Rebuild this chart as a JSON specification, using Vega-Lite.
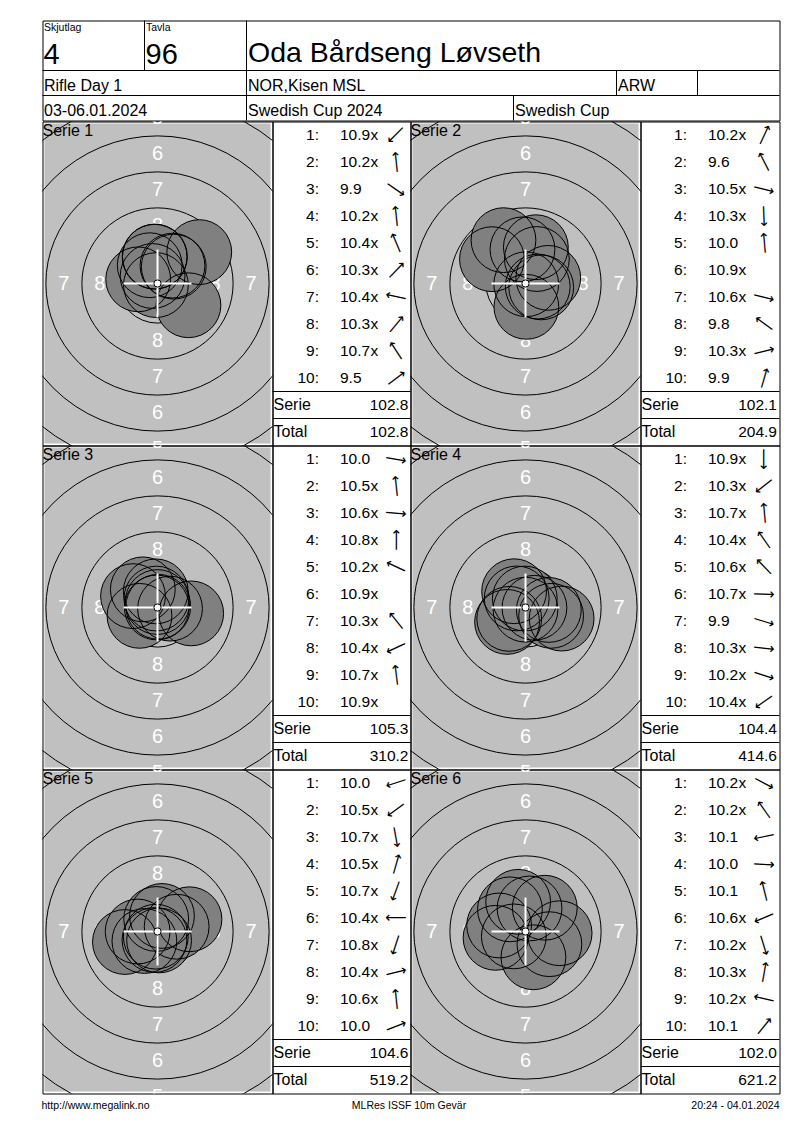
{
  "$schema": "https://vega.github.io/schema/vega-lite/v6.json",
  "padding": {"left": 41.5, "top": 19.5, "right": 10, "bottom": 6},
  "background": "#ffffff",
  "data": {
    "values": [
      {"c": "grid"},
      {"c": "skj", "role": "cap", "t": "Skjutlag"},
      {"c": "skj", "role": "val", "t": "4"},
      {"c": "tav", "role": "cap", "t": "Tavla"},
      {"c": "tav", "role": "val", "t": "96"},
      {"c": "name", "role": "val", "t": "Oda Bårdseng Løvseth"},
      {"c": "day", "t": "Rifle Day 1"},
      {"c": "club", "t": "NOR,Kisen MSL"},
      {"c": "cls", "t": "ARW"},
      {"c": "date", "t": "03-06.01.2024"},
      {"c": "comp", "t": "Swedish Cup 2024"},
      {"c": "comp2", "t": "Swedish Cup"},
      {"c": "fl", "t": "http://www.megalink.no"},
      {"c": "fc", "t": "MLRes ISSF 10m Gevär"},
      {"c": "fr", "t": "20:24 - 04.01.2024"},
      {"k": "bg"},
      {"k": "ring", "r": 2.75},
      {"k": "ring", "r": 5.25},
      {"k": "ring", "r": 7.75},
      {"k": "ring", "r": 10.25},
      {"k": "ring", "r": 12.75},
      {"k": "ten", "r": 0.25},
      {"k": "lab", "t": "8", "lr": 4.0},
      {"k": "lab", "t": "7", "lr": 6.5},
      {"k": "lab", "t": "6", "lr": 9.0},
      {"k": "lab", "t": "5", "lr": 11.5},
      {"k": "title", "s": 1, "t": "Serie 1"},
      {"k": "title", "s": 2, "t": "Serie 2"},
      {"k": "title", "s": 3, "t": "Serie 3"},
      {"k": "title", "s": 4, "t": "Serie 4"},
      {"k": "title", "s": 5, "t": "Serie 5"},
      {"k": "title", "s": 6, "t": "Serie 6"},
      {"k": "shot", "s": 1, "n": 1, "sc": 10.9, "in": true, "dir": 225, "x": -0.11, "y": -0.11},
      {"k": "shot", "s": 1, "n": 2, "sc": 10.2, "in": true, "dir": 96, "x": -0.2, "y": 1.86},
      {"k": "shot", "s": 1, "n": 3, "sc": 9.9, "in": false, "dir": 325, "x": 2.15, "y": -1.51},
      {"k": "shot", "s": 1, "n": 4, "sc": 10.2, "in": true, "dir": 96, "x": -0.18, "y": 1.87},
      {"k": "shot", "s": 1, "n": 5, "sc": 10.4, "in": true, "dir": 113, "x": -0.54, "y": 1.27},
      {"k": "shot", "s": 1, "n": 6, "sc": 10.3, "in": true, "dir": 46, "x": 1.13, "y": 1.17},
      {"k": "shot", "s": 1, "n": 7, "sc": 10.4, "in": true, "dir": 168, "x": -1.34, "y": 0.29},
      {"k": "shot", "s": 1, "n": 8, "sc": 10.3, "in": true, "dir": 50, "x": 1.04, "y": 1.24},
      {"k": "shot", "s": 1, "n": 9, "sc": 10.7, "in": true, "dir": 123, "x": -0.34, "y": 0.52},
      {"k": "shot", "s": 1, "n": 10, "sc": 9.5, "in": false, "dir": 37, "x": 2.9, "y": 2.18},
      {"k": "shot", "s": 2, "n": 1, "sc": 10.2, "in": true, "dir": 65, "x": 0.79, "y": 1.7},
      {"k": "shot", "s": 2, "n": 2, "sc": 9.6, "in": false, "dir": 117, "x": -1.53, "y": 3.01},
      {"k": "shot", "s": 2, "n": 3, "sc": 10.5, "in": true, "dir": 346, "x": 1.09, "y": -0.27},
      {"k": "shot", "s": 2, "n": 4, "sc": 10.3, "in": true, "dir": 272, "x": 0.06, "y": -1.62},
      {"k": "shot", "s": 2, "n": 5, "sc": 10.0, "in": false, "dir": 95, "x": -0.21, "y": 2.37},
      {"k": "shot", "s": 2, "n": 6, "sc": 10.9, "in": true, "dir": null, "x": 0.05, "y": -0.05},
      {"k": "shot", "s": 2, "n": 7, "sc": 10.6, "in": true, "dir": 346, "x": 0.85, "y": -0.21},
      {"k": "shot", "s": 2, "n": 8, "sc": 9.8, "in": false, "dir": 144, "x": -2.33, "y": 1.69},
      {"k": "shot", "s": 2, "n": 9, "sc": 10.3, "in": true, "dir": 14, "x": 1.58, "y": 0.39},
      {"k": "shot", "s": 2, "n": 10, "sc": 9.9, "in": false, "dir": 74, "x": 0.72, "y": 2.52},
      {"k": "shot", "s": 3, "n": 1, "sc": 10.0, "in": false, "dir": 350, "x": 2.34, "y": -0.41},
      {"k": "shot", "s": 3, "n": 2, "sc": 10.5, "in": true, "dir": 96, "x": -0.12, "y": 1.12},
      {"k": "shot", "s": 3, "n": 3, "sc": 10.6, "in": true, "dir": 355, "x": 0.87, "y": -0.08},
      {"k": "shot", "s": 3, "n": 4, "sc": 10.8, "in": true, "dir": 90, "x": 0.0, "y": 0.38},
      {"k": "shot", "s": 3, "n": 5, "sc": 10.2, "in": true, "dir": 155, "x": -1.7, "y": 0.79},
      {"k": "shot", "s": 3, "n": 6, "sc": 10.9, "in": true, "dir": null, "x": 0.05, "y": 0.05},
      {"k": "shot", "s": 3, "n": 7, "sc": 10.3, "in": true, "dir": 129, "x": -1.02, "y": 1.26},
      {"k": "shot", "s": 3, "n": 8, "sc": 10.4, "in": true, "dir": 205, "x": -1.25, "y": -0.58},
      {"k": "shot", "s": 3, "n": 9, "sc": 10.7, "in": true, "dir": 97, "x": -0.08, "y": 0.62},
      {"k": "shot", "s": 3, "n": 10, "sc": 10.9, "in": true, "dir": null, "x": -0.05, "y": 0.0},
      {"k": "shot", "s": 4, "n": 1, "sc": 10.9, "in": true, "dir": 270, "x": 0.0, "y": -0.15},
      {"k": "shot", "s": 4, "n": 2, "sc": 10.3, "in": true, "dir": 218, "x": -1.28, "y": -1.0},
      {"k": "shot", "s": 4, "n": 3, "sc": 10.7, "in": true, "dir": 95, "x": -0.05, "y": 0.62},
      {"k": "shot", "s": 4, "n": 4, "sc": 10.4, "in": true, "dir": 125, "x": -0.79, "y": 1.13},
      {"k": "shot", "s": 4, "n": 5, "sc": 10.6, "in": true, "dir": 134, "x": -0.61, "y": 0.63},
      {"k": "shot", "s": 4, "n": 6, "sc": 10.7, "in": true, "dir": 358, "x": 0.62, "y": -0.02},
      {"k": "shot", "s": 4, "n": 7, "sc": 9.9, "in": false, "dir": 343, "x": 2.51, "y": -0.77},
      {"k": "shot", "s": 4, "n": 8, "sc": 10.3, "in": true, "dir": 354, "x": 1.62, "y": -0.17},
      {"k": "shot", "s": 4, "n": 9, "sc": 10.2, "in": true, "dir": 342, "x": 1.78, "y": -0.58},
      {"k": "shot", "s": 4, "n": 10, "sc": 10.4, "in": true, "dir": 215, "x": -1.13, "y": -0.79},
      {"k": "shot", "s": 5, "n": 1, "sc": 10.0, "in": false, "dir": 198, "x": -2.26, "y": -0.73},
      {"k": "shot", "s": 5, "n": 2, "sc": 10.5, "in": true, "dir": 216, "x": -0.91, "y": -0.66},
      {"k": "shot", "s": 5, "n": 3, "sc": 10.7, "in": true, "dir": 280, "x": 0.11, "y": -0.62},
      {"k": "shot", "s": 5, "n": 4, "sc": 10.5, "in": true, "dir": 74, "x": 0.31, "y": 1.08},
      {"k": "shot", "s": 5, "n": 5, "sc": 10.7, "in": true, "dir": 250, "x": -0.21, "y": -0.59},
      {"k": "shot", "s": 5, "n": 6, "sc": 10.4, "in": true, "dir": 180, "x": -1.38, "y": 0.0},
      {"k": "shot", "s": 5, "n": 7, "sc": 10.8, "in": true, "dir": 252, "x": -0.12, "y": -0.36},
      {"k": "shot", "s": 5, "n": 8, "sc": 10.4, "in": true, "dir": 14, "x": 1.33, "y": 0.33},
      {"k": "shot", "s": 5, "n": 9, "sc": 10.6, "in": true, "dir": 96, "x": -0.09, "y": 0.87},
      {"k": "shot", "s": 5, "n": 10, "sc": 10.0, "in": false, "dir": 21, "x": 2.22, "y": 0.85},
      {"k": "shot", "s": 6, "n": 1, "sc": 10.2, "in": true, "dir": 332, "x": 1.66, "y": -0.88},
      {"k": "shot", "s": 6, "n": 2, "sc": 10.2, "in": true, "dir": 125, "x": -1.08, "y": 1.54},
      {"k": "shot", "s": 6, "n": 3, "sc": 10.1, "in": false, "dir": 192, "x": -2.08, "y": -0.44},
      {"k": "shot", "s": 6, "n": 4, "sc": 10.0, "in": false, "dir": 357, "x": 2.37, "y": -0.12},
      {"k": "shot", "s": 6, "n": 5, "sc": 10.1, "in": false, "dir": 104, "x": -0.51, "y": 2.06},
      {"k": "shot", "s": 6, "n": 6, "sc": 10.6, "in": true, "dir": 203, "x": -0.81, "y": -0.34},
      {"k": "shot", "s": 6, "n": 7, "sc": 10.2, "in": true, "dir": 287, "x": 0.55, "y": -1.79},
      {"k": "shot", "s": 6, "n": 8, "sc": 10.3, "in": true, "dir": 80, "x": 0.28, "y": 1.6},
      {"k": "shot", "s": 6, "n": 9, "sc": 10.2, "in": true, "dir": 167, "x": -1.83, "y": 0.42},
      {"k": "shot", "s": 6, "n": 10, "sc": 10.1, "in": false, "dir": 51, "x": 1.34, "y": 1.65},
      {"k": "sum", "s": 1, "lab": "Serie", "v": 102.8},
      {"k": "sum", "s": 1, "lab": "Total", "v": 102.8},
      {"k": "sum", "s": 2, "lab": "Serie", "v": 102.1},
      {"k": "sum", "s": 2, "lab": "Total", "v": 204.9},
      {"k": "sum", "s": 3, "lab": "Serie", "v": 105.3},
      {"k": "sum", "s": 3, "lab": "Total", "v": 310.2},
      {"k": "sum", "s": 4, "lab": "Serie", "v": 104.4},
      {"k": "sum", "s": 4, "lab": "Total", "v": 414.6},
      {"k": "sum", "s": 5, "lab": "Serie", "v": 104.6},
      {"k": "sum", "s": 5, "lab": "Total", "v": 519.2},
      {"k": "sum", "s": 6, "lab": "Serie", "v": 102.0},
      {"k": "sum", "s": 6, "lab": "Total", "v": 621.2}
    ]
  },
  "spacing": -2,
  "vconcat": [
    {
      "width": 737, "height": 100,
      "layer": [
        {"transform": [{"filter": "datum.c=='grid'"}], "mark": {"type": "rule", "color": "#000", "strokeWidth": 1}, "encoding": {"x": {"datum": 0, "scale": {"domain": [0, 737], "nice": false, "zero": false}}, "x2": {"datum": 737}, "y": {"datum": 50, "scale": {"domain": [0, 100], "nice": false, "zero": false, "reverse": true}}}},
        {"transform": [{"filter": "datum.c=='grid'"}], "mark": {"type": "rule", "color": "#000", "strokeWidth": 1}, "encoding": {"x": {"datum": 0}, "x2": {"datum": 737}, "y": {"datum": 75}}},
        {"transform": [{"filter": "datum.c=='grid'"}], "mark": {"type": "rule", "color": "#000", "strokeWidth": 1}, "encoding": {"x": {"datum": 102}, "y": {"datum": 0}, "y2": {"datum": 50}}},
        {"transform": [{"filter": "datum.c=='grid'"}], "mark": {"type": "rule", "color": "#000", "strokeWidth": 1}, "encoding": {"x": {"datum": 204}, "y": {"datum": 0}, "y2": {"datum": 100}}},
        {"transform": [{"filter": "datum.c=='grid'"}], "mark": {"type": "rule", "color": "#000", "strokeWidth": 1}, "encoding": {"x": {"datum": 574}, "y": {"datum": 50}, "y2": {"datum": 75}}},
        {"transform": [{"filter": "datum.c=='grid'"}], "mark": {"type": "rule", "color": "#000", "strokeWidth": 1}, "encoding": {"x": {"datum": 655}, "y": {"datum": 50}, "y2": {"datum": 75}}},
        {"transform": [{"filter": "datum.c=='grid'"}], "mark": {"type": "rule", "color": "#000", "strokeWidth": 1}, "encoding": {"x": {"datum": 471}, "y": {"datum": 75}, "y2": {"datum": 100}}},
        {"transform": [{"filter": "datum.c=='skj'&&datum.role=='cap'"}], "mark": {"type": "text", "align": "left", "baseline": "top", "fontSize": 10.5}, "encoding": {"x": {"datum": 1.5}, "y": {"datum": 2.5}, "text": {"field": "t"}}},
        {"transform": [{"filter": "datum.c=='skj'&&datum.role=='val'"}], "mark": {"type": "text", "align": "left", "baseline": "alphabetic", "fontSize": 29}, "encoding": {"x": {"datum": 1}, "y": {"datum": 43}, "text": {"field": "t"}}},
        {"transform": [{"filter": "datum.c=='tav'&&datum.role=='cap'"}], "mark": {"type": "text", "align": "left", "baseline": "top", "fontSize": 10.5}, "encoding": {"x": {"datum": 103.5}, "y": {"datum": 2.5}, "text": {"field": "t"}}},
        {"transform": [{"filter": "datum.c=='tav'&&datum.role=='val'"}], "mark": {"type": "text", "align": "left", "baseline": "alphabetic", "fontSize": 29}, "encoding": {"x": {"datum": 103}, "y": {"datum": 43}, "text": {"field": "t"}}},
        {"transform": [{"filter": "datum.c=='name'"}], "mark": {"type": "text", "align": "left", "baseline": "alphabetic", "fontSize": 28.5}, "encoding": {"x": {"datum": 205.5}, "y": {"datum": 41.5}, "text": {"field": "t"}}},
        {"transform": [{"filter": "datum.c=='day'"}], "mark": {"type": "text", "align": "left", "baseline": "alphabetic", "fontSize": 16}, "encoding": {"x": {"datum": 1.5}, "y": {"datum": 70.5}, "text": {"field": "t"}}},
        {"transform": [{"filter": "datum.c=='club'"}], "mark": {"type": "text", "align": "left", "baseline": "alphabetic", "fontSize": 16}, "encoding": {"x": {"datum": 205.5}, "y": {"datum": 70.5}, "text": {"field": "t"}}},
        {"transform": [{"filter": "datum.c=='cls'"}], "mark": {"type": "text", "align": "left", "baseline": "alphabetic", "fontSize": 16}, "encoding": {"x": {"datum": 575.5}, "y": {"datum": 70.5}, "text": {"field": "t"}}},
        {"transform": [{"filter": "datum.c=='date'"}], "mark": {"type": "text", "align": "left", "baseline": "alphabetic", "fontSize": 16}, "encoding": {"x": {"datum": 1.5}, "y": {"datum": 95}, "text": {"field": "t"}}},
        {"transform": [{"filter": "datum.c=='comp'"}], "mark": {"type": "text", "align": "left", "baseline": "alphabetic", "fontSize": 16}, "encoding": {"x": {"datum": 205.5}, "y": {"datum": 95}, "text": {"field": "t"}}},
        {"transform": [{"filter": "datum.c=='comp2'"}], "mark": {"type": "text", "align": "left", "baseline": "alphabetic", "fontSize": 16}, "encoding": {"x": {"datum": 472.5}, "y": {"datum": 95}, "text": {"field": "t"}}}
      ]
    },
    {
      "columns": 4,
      "spacing": 0,
      "bounds": "flush",
      "concat": [
        {
          "width": 230, "height": 324,
          "transform": [{"filter": "datum.s==null||datum.s==1"}],
          "layer": [
            {"transform": [{"filter": "datum.k=='bg'"}], "mark": {"type": "rect", "color": "#c0c0c0"}, "encoding": {"x": {"datum": -7.85, "scale": {"domain": [-7.986, 7.986], "nice": false, "zero": false}}, "x2": {"datum": 7.85}, "y": {"datum": -11.11, "scale": {"domain": [-11.25, 11.25], "nice": false, "zero": false}}, "y2": {"datum": 11.11}}},
            {"transform": [{"filter": "datum.k=='ring'"}], "mark": {"type": "point", "shape": "circle", "filled": false, "color": "#000", "strokeWidth": 1, "opacity": 1, "clip": true}, "encoding": {"x": {"datum": 0}, "y": {"datum": 0}, "size": {"field": "r", "type": "quantitative", "scale": {"type": "pow", "exponent": 2, "domain": [0, 10], "range": [0, 82944]}}}},
            {"transform": [{"filter": "datum.k=='lab'"}], "mark": {"type": "text", "color": "#fff", "fontSize": 20, "clip": true}, "encoding": {"theta": {"datum": 0, "scale": {"domain": [0, 360], "range": [0, 6.283185]}}, "radius": {"field": "lr", "type": "quantitative", "scale": {"type": "linear", "domain": [0, 10], "range": [0, 144], "zero": true}}, "text": {"field": "t"}}},
            {"transform": [{"filter": "datum.k=='lab'&&datum.lr<8"}], "mark": {"type": "text", "color": "#fff", "fontSize": 20, "clip": true}, "encoding": {"theta": {"datum": 90}, "radius": {"field": "lr", "type": "quantitative"}, "text": {"field": "t"}}},
            {"transform": [{"filter": "datum.k=='lab'"}], "mark": {"type": "text", "color": "#fff", "fontSize": 20, "clip": true}, "encoding": {"theta": {"datum": 180}, "radius": {"field": "lr", "type": "quantitative"}, "text": {"field": "t"}}},
            {"transform": [{"filter": "datum.k=='lab'&&datum.lr<8"}], "mark": {"type": "text", "color": "#fff", "fontSize": 20, "clip": true}, "encoding": {"theta": {"datum": 270}, "radius": {"field": "lr", "type": "quantitative"}, "text": {"field": "t"}}},
            {"transform": [{"filter": "datum.k=='shot'"}], "mark": {"type": "point", "shape": "circle", "filled": true, "color": "#808080", "opacity": 1, "size": 4199, "strokeWidth": 0, "clip": true}, "encoding": {"x": {"field": "x", "type": "quantitative"}, "y": {"field": "y", "type": "quantitative"}}},
            {"transform": [{"filter": "datum.k=='shot'"}], "mark": {"type": "point", "shape": "circle", "filled": false, "color": "#000", "opacity": 1, "size": 4199, "strokeWidth": 1, "clip": true}, "encoding": {"x": {"field": "x", "type": "quantitative"}, "y": {"field": "y", "type": "quantitative"}}},
            {"transform": [{"filter": "datum.k=='bg'"}], "mark": {"type": "rule", "color": "#fff", "strokeWidth": 2}, "encoding": {"x": {"datum": -2.36}, "x2": {"datum": 2.36}, "y": {"datum": 0}}},
            {"transform": [{"filter": "datum.k=='bg'"}], "mark": {"type": "rule", "color": "#fff", "strokeWidth": 2}, "encoding": {"x": {"datum": 0}, "y": {"datum": -2.36}, "y2": {"datum": 2.36}}},
            {"transform": [{"filter": "datum.k=='ten'"}], "mark": {"type": "point", "shape": "circle", "filled": true, "fill": "#fff", "stroke": "#000", "strokeWidth": 1, "opacity": 1}, "encoding": {"x": {"datum": 0}, "y": {"datum": 0}, "size": {"field": "r", "type": "quantitative"}}},
            {"transform": [{"filter": "datum.k=='title'"}], "mark": {"type": "text", "align": "left", "baseline": "top", "fontSize": 16, "dy": 1}, "encoding": {"x": {"datum": -7.986}, "y": {"datum": 11.25}, "text": {"field": "t"}}}
          ]
        },
        {
          "width": 138, "height": 324,
          "transform": [{"filter": "datum.s==1"}],
          "layer": [
            {"transform": [{"filter": "datum.k=='shot'"}], "mark": {"type": "text", "align": "right", "fontSize": 15.5}, "encoding": {"x": {"datum": 42.2, "scale": {"domain": [0, 138], "nice": false, "zero": false}}, "y": {"field": "n", "type": "ordinal", "scale": {"type": "band", "domain": [1, 2, 3, 4, 5, 6, 7, 8, 9, 10, "Serie", "Total"], "paddingInner": 0, "paddingOuter": 0}}, "text": {"field": "n"}}},
            {"transform": [{"filter": "datum.k=='shot'"}], "mark": {"type": "text", "align": "left", "fontSize": 15.5}, "encoding": {"x": {"datum": 42.2}, "y": {"field": "n", "type": "ordinal"}, "text": {"value": ":"}}},
            {"transform": [{"filter": "datum.k=='shot'"}], "mark": {"type": "text", "align": "left", "fontSize": 15.5}, "encoding": {"x": {"datum": 67.5}, "y": {"field": "n", "type": "ordinal"}, "text": {"field": "sc", "format": "\u00a0>4.1f"}}},
            {"transform": [{"filter": "datum.k=='shot'&&datum.in"}], "mark": {"type": "text", "align": "left", "fontSize": 15.5}, "encoding": {"x": {"datum": 98}, "y": {"field": "n", "type": "ordinal"}, "text": {"value": "x"}}},
            {"transform": [{"filter": "datum.k=='shot'&&datum.dir!=null"}], "mark": {"type": "text", "font": "DejaVu Sans", "fontSize": 15}, "encoding": {"x": {"datum": 123.5}, "y": {"field": "n", "type": "ordinal"}, "text": {"value": "⟶"}, "angle": {"field": "dir", "type": "quantitative", "scale": {"domain": [0, 360], "range": [360, 0]}}}},
            {"transform": [{"filter": "datum.k=='sum'"}], "mark": {"type": "rule", "color": "#000", "strokeWidth": 1}, "encoding": {"x": {"datum": 0}, "x2": {"datum": 138}, "y": {"field": "lab", "type": "ordinal", "bandPosition": 0}}},
            {"transform": [{"filter": "datum.k=='sum'"}], "mark": {"type": "text", "align": "left", "fontSize": 16}, "encoding": {"x": {"datum": 1}, "y": {"field": "lab", "type": "ordinal"}, "text": {"field": "lab"}}},
            {"transform": [{"filter": "datum.k=='sum'"}], "mark": {"type": "text", "align": "right", "fontSize": 15.5}, "encoding": {"x": {"datum": 136}, "y": {"field": "lab", "type": "ordinal"}, "text": {"field": "v", "format": ".1f"}}}
          ]
        },
        {
          "width": 230, "height": 324,
          "transform": [{"filter": "datum.s==null||datum.s==2"}],
          "layer": [
            {"transform": [{"filter": "datum.k=='bg'"}], "mark": {"type": "rect", "color": "#c0c0c0"}, "encoding": {"x": {"datum": -7.85, "scale": {"domain": [-7.986, 7.986], "nice": false, "zero": false}}, "x2": {"datum": 7.85}, "y": {"datum": -11.11, "scale": {"domain": [-11.25, 11.25], "nice": false, "zero": false}}, "y2": {"datum": 11.11}}},
            {"transform": [{"filter": "datum.k=='ring'"}], "mark": {"type": "point", "shape": "circle", "filled": false, "color": "#000", "strokeWidth": 1, "opacity": 1, "clip": true}, "encoding": {"x": {"datum": 0}, "y": {"datum": 0}, "size": {"field": "r", "type": "quantitative", "scale": {"type": "pow", "exponent": 2, "domain": [0, 10], "range": [0, 82944]}}}},
            {"transform": [{"filter": "datum.k=='lab'"}], "mark": {"type": "text", "color": "#fff", "fontSize": 20, "clip": true}, "encoding": {"theta": {"datum": 0, "scale": {"domain": [0, 360], "range": [0, 6.283185]}}, "radius": {"field": "lr", "type": "quantitative", "scale": {"type": "linear", "domain": [0, 10], "range": [0, 144], "zero": true}}, "text": {"field": "t"}}},
            {"transform": [{"filter": "datum.k=='lab'&&datum.lr<8"}], "mark": {"type": "text", "color": "#fff", "fontSize": 20, "clip": true}, "encoding": {"theta": {"datum": 90}, "radius": {"field": "lr", "type": "quantitative"}, "text": {"field": "t"}}},
            {"transform": [{"filter": "datum.k=='lab'"}], "mark": {"type": "text", "color": "#fff", "fontSize": 20, "clip": true}, "encoding": {"theta": {"datum": 180}, "radius": {"field": "lr", "type": "quantitative"}, "text": {"field": "t"}}},
            {"transform": [{"filter": "datum.k=='lab'&&datum.lr<8"}], "mark": {"type": "text", "color": "#fff", "fontSize": 20, "clip": true}, "encoding": {"theta": {"datum": 270}, "radius": {"field": "lr", "type": "quantitative"}, "text": {"field": "t"}}},
            {"transform": [{"filter": "datum.k=='shot'"}], "mark": {"type": "point", "shape": "circle", "filled": true, "color": "#808080", "opacity": 1, "size": 4199, "strokeWidth": 0, "clip": true}, "encoding": {"x": {"field": "x", "type": "quantitative"}, "y": {"field": "y", "type": "quantitative"}}},
            {"transform": [{"filter": "datum.k=='shot'"}], "mark": {"type": "point", "shape": "circle", "filled": false, "color": "#000", "opacity": 1, "size": 4199, "strokeWidth": 1, "clip": true}, "encoding": {"x": {"field": "x", "type": "quantitative"}, "y": {"field": "y", "type": "quantitative"}}},
            {"transform": [{"filter": "datum.k=='bg'"}], "mark": {"type": "rule", "color": "#fff", "strokeWidth": 2}, "encoding": {"x": {"datum": -2.36}, "x2": {"datum": 2.36}, "y": {"datum": 0}}},
            {"transform": [{"filter": "datum.k=='bg'"}], "mark": {"type": "rule", "color": "#fff", "strokeWidth": 2}, "encoding": {"x": {"datum": 0}, "y": {"datum": -2.36}, "y2": {"datum": 2.36}}},
            {"transform": [{"filter": "datum.k=='ten'"}], "mark": {"type": "point", "shape": "circle", "filled": true, "fill": "#fff", "stroke": "#000", "strokeWidth": 1, "opacity": 1}, "encoding": {"x": {"datum": 0}, "y": {"datum": 0}, "size": {"field": "r", "type": "quantitative"}}},
            {"transform": [{"filter": "datum.k=='title'"}], "mark": {"type": "text", "align": "left", "baseline": "top", "fontSize": 16, "dy": 1}, "encoding": {"x": {"datum": -7.986}, "y": {"datum": 11.25}, "text": {"field": "t"}}}
          ]
        },
        {
          "width": 139, "height": 324,
          "transform": [{"filter": "datum.s==2"}],
          "layer": [
            {"transform": [{"filter": "datum.k=='shot'"}], "mark": {"type": "text", "align": "right", "fontSize": 15.5}, "encoding": {"x": {"datum": 42.2, "scale": {"domain": [0, 139], "nice": false, "zero": false}}, "y": {"field": "n", "type": "ordinal", "scale": {"type": "band", "domain": [1, 2, 3, 4, 5, 6, 7, 8, 9, 10, "Serie", "Total"], "paddingInner": 0, "paddingOuter": 0}}, "text": {"field": "n"}}},
            {"transform": [{"filter": "datum.k=='shot'"}], "mark": {"type": "text", "align": "left", "fontSize": 15.5}, "encoding": {"x": {"datum": 42.2}, "y": {"field": "n", "type": "ordinal"}, "text": {"value": ":"}}},
            {"transform": [{"filter": "datum.k=='shot'"}], "mark": {"type": "text", "align": "left", "fontSize": 15.5}, "encoding": {"x": {"datum": 67.5}, "y": {"field": "n", "type": "ordinal"}, "text": {"field": "sc", "format": "\u00a0>4.1f"}}},
            {"transform": [{"filter": "datum.k=='shot'&&datum.in"}], "mark": {"type": "text", "align": "left", "fontSize": 15.5}, "encoding": {"x": {"datum": 98}, "y": {"field": "n", "type": "ordinal"}, "text": {"value": "x"}}},
            {"transform": [{"filter": "datum.k=='shot'&&datum.dir!=null"}], "mark": {"type": "text", "font": "DejaVu Sans", "fontSize": 15}, "encoding": {"x": {"datum": 123.5}, "y": {"field": "n", "type": "ordinal"}, "text": {"value": "⟶"}, "angle": {"field": "dir", "type": "quantitative", "scale": {"domain": [0, 360], "range": [360, 0]}}}},
            {"transform": [{"filter": "datum.k=='sum'"}], "mark": {"type": "rule", "color": "#000", "strokeWidth": 1}, "encoding": {"x": {"datum": 0}, "x2": {"datum": 139}, "y": {"field": "lab", "type": "ordinal", "bandPosition": 0}}},
            {"transform": [{"filter": "datum.k=='sum'"}], "mark": {"type": "text", "align": "left", "fontSize": 16}, "encoding": {"x": {"datum": 1}, "y": {"field": "lab", "type": "ordinal"}, "text": {"field": "lab"}}},
            {"transform": [{"filter": "datum.k=='sum'"}], "mark": {"type": "text", "align": "right", "fontSize": 15.5}, "encoding": {"x": {"datum": 136.5}, "y": {"field": "lab", "type": "ordinal"}, "text": {"field": "v", "format": ".1f"}}}
          ]
        },
        {
          "width": 230, "height": 324,
          "transform": [{"filter": "datum.s==null||datum.s==3"}],
          "layer": [
            {"transform": [{"filter": "datum.k=='bg'"}], "mark": {"type": "rect", "color": "#c0c0c0"}, "encoding": {"x": {"datum": -7.85, "scale": {"domain": [-7.986, 7.986], "nice": false, "zero": false}}, "x2": {"datum": 7.85}, "y": {"datum": -11.11, "scale": {"domain": [-11.25, 11.25], "nice": false, "zero": false}}, "y2": {"datum": 11.11}}},
            {"transform": [{"filter": "datum.k=='ring'"}], "mark": {"type": "point", "shape": "circle", "filled": false, "color": "#000", "strokeWidth": 1, "opacity": 1, "clip": true}, "encoding": {"x": {"datum": 0}, "y": {"datum": 0}, "size": {"field": "r", "type": "quantitative", "scale": {"type": "pow", "exponent": 2, "domain": [0, 10], "range": [0, 82944]}}}},
            {"transform": [{"filter": "datum.k=='lab'"}], "mark": {"type": "text", "color": "#fff", "fontSize": 20, "clip": true}, "encoding": {"theta": {"datum": 0, "scale": {"domain": [0, 360], "range": [0, 6.283185]}}, "radius": {"field": "lr", "type": "quantitative", "scale": {"type": "linear", "domain": [0, 10], "range": [0, 144], "zero": true}}, "text": {"field": "t"}}},
            {"transform": [{"filter": "datum.k=='lab'&&datum.lr<8"}], "mark": {"type": "text", "color": "#fff", "fontSize": 20, "clip": true}, "encoding": {"theta": {"datum": 90}, "radius": {"field": "lr", "type": "quantitative"}, "text": {"field": "t"}}},
            {"transform": [{"filter": "datum.k=='lab'"}], "mark": {"type": "text", "color": "#fff", "fontSize": 20, "clip": true}, "encoding": {"theta": {"datum": 180}, "radius": {"field": "lr", "type": "quantitative"}, "text": {"field": "t"}}},
            {"transform": [{"filter": "datum.k=='lab'&&datum.lr<8"}], "mark": {"type": "text", "color": "#fff", "fontSize": 20, "clip": true}, "encoding": {"theta": {"datum": 270}, "radius": {"field": "lr", "type": "quantitative"}, "text": {"field": "t"}}},
            {"transform": [{"filter": "datum.k=='shot'"}], "mark": {"type": "point", "shape": "circle", "filled": true, "color": "#808080", "opacity": 1, "size": 4199, "strokeWidth": 0, "clip": true}, "encoding": {"x": {"field": "x", "type": "quantitative"}, "y": {"field": "y", "type": "quantitative"}}},
            {"transform": [{"filter": "datum.k=='shot'"}], "mark": {"type": "point", "shape": "circle", "filled": false, "color": "#000", "opacity": 1, "size": 4199, "strokeWidth": 1, "clip": true}, "encoding": {"x": {"field": "x", "type": "quantitative"}, "y": {"field": "y", "type": "quantitative"}}},
            {"transform": [{"filter": "datum.k=='bg'"}], "mark": {"type": "rule", "color": "#fff", "strokeWidth": 2}, "encoding": {"x": {"datum": -2.36}, "x2": {"datum": 2.36}, "y": {"datum": 0}}},
            {"transform": [{"filter": "datum.k=='bg'"}], "mark": {"type": "rule", "color": "#fff", "strokeWidth": 2}, "encoding": {"x": {"datum": 0}, "y": {"datum": -2.36}, "y2": {"datum": 2.36}}},
            {"transform": [{"filter": "datum.k=='ten'"}], "mark": {"type": "point", "shape": "circle", "filled": true, "fill": "#fff", "stroke": "#000", "strokeWidth": 1, "opacity": 1}, "encoding": {"x": {"datum": 0}, "y": {"datum": 0}, "size": {"field": "r", "type": "quantitative"}}},
            {"transform": [{"filter": "datum.k=='title'"}], "mark": {"type": "text", "align": "left", "baseline": "top", "fontSize": 16, "dy": 1}, "encoding": {"x": {"datum": -7.986}, "y": {"datum": 11.25}, "text": {"field": "t"}}}
          ]
        },
        {
          "width": 138, "height": 324,
          "transform": [{"filter": "datum.s==3"}],
          "layer": [
            {"transform": [{"filter": "datum.k=='shot'"}], "mark": {"type": "text", "align": "right", "fontSize": 15.5}, "encoding": {"x": {"datum": 42.2, "scale": {"domain": [0, 138], "nice": false, "zero": false}}, "y": {"field": "n", "type": "ordinal", "scale": {"type": "band", "domain": [1, 2, 3, 4, 5, 6, 7, 8, 9, 10, "Serie", "Total"], "paddingInner": 0, "paddingOuter": 0}}, "text": {"field": "n"}}},
            {"transform": [{"filter": "datum.k=='shot'"}], "mark": {"type": "text", "align": "left", "fontSize": 15.5}, "encoding": {"x": {"datum": 42.2}, "y": {"field": "n", "type": "ordinal"}, "text": {"value": ":"}}},
            {"transform": [{"filter": "datum.k=='shot'"}], "mark": {"type": "text", "align": "left", "fontSize": 15.5}, "encoding": {"x": {"datum": 67.5}, "y": {"field": "n", "type": "ordinal"}, "text": {"field": "sc", "format": "\u00a0>4.1f"}}},
            {"transform": [{"filter": "datum.k=='shot'&&datum.in"}], "mark": {"type": "text", "align": "left", "fontSize": 15.5}, "encoding": {"x": {"datum": 98}, "y": {"field": "n", "type": "ordinal"}, "text": {"value": "x"}}},
            {"transform": [{"filter": "datum.k=='shot'&&datum.dir!=null"}], "mark": {"type": "text", "font": "DejaVu Sans", "fontSize": 15}, "encoding": {"x": {"datum": 123.5}, "y": {"field": "n", "type": "ordinal"}, "text": {"value": "⟶"}, "angle": {"field": "dir", "type": "quantitative", "scale": {"domain": [0, 360], "range": [360, 0]}}}},
            {"transform": [{"filter": "datum.k=='sum'"}], "mark": {"type": "rule", "color": "#000", "strokeWidth": 1}, "encoding": {"x": {"datum": 0}, "x2": {"datum": 138}, "y": {"field": "lab", "type": "ordinal", "bandPosition": 0}}},
            {"transform": [{"filter": "datum.k=='sum'"}], "mark": {"type": "text", "align": "left", "fontSize": 16}, "encoding": {"x": {"datum": 1}, "y": {"field": "lab", "type": "ordinal"}, "text": {"field": "lab"}}},
            {"transform": [{"filter": "datum.k=='sum'"}], "mark": {"type": "text", "align": "right", "fontSize": 15.5}, "encoding": {"x": {"datum": 136}, "y": {"field": "lab", "type": "ordinal"}, "text": {"field": "v", "format": ".1f"}}}
          ]
        },
        {
          "width": 230, "height": 324,
          "transform": [{"filter": "datum.s==null||datum.s==4"}],
          "layer": [
            {"transform": [{"filter": "datum.k=='bg'"}], "mark": {"type": "rect", "color": "#c0c0c0"}, "encoding": {"x": {"datum": -7.85, "scale": {"domain": [-7.986, 7.986], "nice": false, "zero": false}}, "x2": {"datum": 7.85}, "y": {"datum": -11.11, "scale": {"domain": [-11.25, 11.25], "nice": false, "zero": false}}, "y2": {"datum": 11.11}}},
            {"transform": [{"filter": "datum.k=='ring'"}], "mark": {"type": "point", "shape": "circle", "filled": false, "color": "#000", "strokeWidth": 1, "opacity": 1, "clip": true}, "encoding": {"x": {"datum": 0}, "y": {"datum": 0}, "size": {"field": "r", "type": "quantitative", "scale": {"type": "pow", "exponent": 2, "domain": [0, 10], "range": [0, 82944]}}}},
            {"transform": [{"filter": "datum.k=='lab'"}], "mark": {"type": "text", "color": "#fff", "fontSize": 20, "clip": true}, "encoding": {"theta": {"datum": 0, "scale": {"domain": [0, 360], "range": [0, 6.283185]}}, "radius": {"field": "lr", "type": "quantitative", "scale": {"type": "linear", "domain": [0, 10], "range": [0, 144], "zero": true}}, "text": {"field": "t"}}},
            {"transform": [{"filter": "datum.k=='lab'&&datum.lr<8"}], "mark": {"type": "text", "color": "#fff", "fontSize": 20, "clip": true}, "encoding": {"theta": {"datum": 90}, "radius": {"field": "lr", "type": "quantitative"}, "text": {"field": "t"}}},
            {"transform": [{"filter": "datum.k=='lab'"}], "mark": {"type": "text", "color": "#fff", "fontSize": 20, "clip": true}, "encoding": {"theta": {"datum": 180}, "radius": {"field": "lr", "type": "quantitative"}, "text": {"field": "t"}}},
            {"transform": [{"filter": "datum.k=='lab'&&datum.lr<8"}], "mark": {"type": "text", "color": "#fff", "fontSize": 20, "clip": true}, "encoding": {"theta": {"datum": 270}, "radius": {"field": "lr", "type": "quantitative"}, "text": {"field": "t"}}},
            {"transform": [{"filter": "datum.k=='shot'"}], "mark": {"type": "point", "shape": "circle", "filled": true, "color": "#808080", "opacity": 1, "size": 4199, "strokeWidth": 0, "clip": true}, "encoding": {"x": {"field": "x", "type": "quantitative"}, "y": {"field": "y", "type": "quantitative"}}},
            {"transform": [{"filter": "datum.k=='shot'"}], "mark": {"type": "point", "shape": "circle", "filled": false, "color": "#000", "opacity": 1, "size": 4199, "strokeWidth": 1, "clip": true}, "encoding": {"x": {"field": "x", "type": "quantitative"}, "y": {"field": "y", "type": "quantitative"}}},
            {"transform": [{"filter": "datum.k=='bg'"}], "mark": {"type": "rule", "color": "#fff", "strokeWidth": 2}, "encoding": {"x": {"datum": -2.36}, "x2": {"datum": 2.36}, "y": {"datum": 0}}},
            {"transform": [{"filter": "datum.k=='bg'"}], "mark": {"type": "rule", "color": "#fff", "strokeWidth": 2}, "encoding": {"x": {"datum": 0}, "y": {"datum": -2.36}, "y2": {"datum": 2.36}}},
            {"transform": [{"filter": "datum.k=='ten'"}], "mark": {"type": "point", "shape": "circle", "filled": true, "fill": "#fff", "stroke": "#000", "strokeWidth": 1, "opacity": 1}, "encoding": {"x": {"datum": 0}, "y": {"datum": 0}, "size": {"field": "r", "type": "quantitative"}}},
            {"transform": [{"filter": "datum.k=='title'"}], "mark": {"type": "text", "align": "left", "baseline": "top", "fontSize": 16, "dy": 1}, "encoding": {"x": {"datum": -7.986}, "y": {"datum": 11.25}, "text": {"field": "t"}}}
          ]
        },
        {
          "width": 139, "height": 324,
          "transform": [{"filter": "datum.s==4"}],
          "layer": [
            {"transform": [{"filter": "datum.k=='shot'"}], "mark": {"type": "text", "align": "right", "fontSize": 15.5}, "encoding": {"x": {"datum": 42.2, "scale": {"domain": [0, 139], "nice": false, "zero": false}}, "y": {"field": "n", "type": "ordinal", "scale": {"type": "band", "domain": [1, 2, 3, 4, 5, 6, 7, 8, 9, 10, "Serie", "Total"], "paddingInner": 0, "paddingOuter": 0}}, "text": {"field": "n"}}},
            {"transform": [{"filter": "datum.k=='shot'"}], "mark": {"type": "text", "align": "left", "fontSize": 15.5}, "encoding": {"x": {"datum": 42.2}, "y": {"field": "n", "type": "ordinal"}, "text": {"value": ":"}}},
            {"transform": [{"filter": "datum.k=='shot'"}], "mark": {"type": "text", "align": "left", "fontSize": 15.5}, "encoding": {"x": {"datum": 67.5}, "y": {"field": "n", "type": "ordinal"}, "text": {"field": "sc", "format": "\u00a0>4.1f"}}},
            {"transform": [{"filter": "datum.k=='shot'&&datum.in"}], "mark": {"type": "text", "align": "left", "fontSize": 15.5}, "encoding": {"x": {"datum": 98}, "y": {"field": "n", "type": "ordinal"}, "text": {"value": "x"}}},
            {"transform": [{"filter": "datum.k=='shot'&&datum.dir!=null"}], "mark": {"type": "text", "font": "DejaVu Sans", "fontSize": 15}, "encoding": {"x": {"datum": 123.5}, "y": {"field": "n", "type": "ordinal"}, "text": {"value": "⟶"}, "angle": {"field": "dir", "type": "quantitative", "scale": {"domain": [0, 360], "range": [360, 0]}}}},
            {"transform": [{"filter": "datum.k=='sum'"}], "mark": {"type": "rule", "color": "#000", "strokeWidth": 1}, "encoding": {"x": {"datum": 0}, "x2": {"datum": 139}, "y": {"field": "lab", "type": "ordinal", "bandPosition": 0}}},
            {"transform": [{"filter": "datum.k=='sum'"}], "mark": {"type": "text", "align": "left", "fontSize": 16}, "encoding": {"x": {"datum": 1}, "y": {"field": "lab", "type": "ordinal"}, "text": {"field": "lab"}}},
            {"transform": [{"filter": "datum.k=='sum'"}], "mark": {"type": "text", "align": "right", "fontSize": 15.5}, "encoding": {"x": {"datum": 136.5}, "y": {"field": "lab", "type": "ordinal"}, "text": {"field": "v", "format": ".1f"}}}
          ]
        },
        {
          "width": 230, "height": 324,
          "transform": [{"filter": "datum.s==null||datum.s==5"}],
          "layer": [
            {"transform": [{"filter": "datum.k=='bg'"}], "mark": {"type": "rect", "color": "#c0c0c0"}, "encoding": {"x": {"datum": -7.85, "scale": {"domain": [-7.986, 7.986], "nice": false, "zero": false}}, "x2": {"datum": 7.85}, "y": {"datum": -11.11, "scale": {"domain": [-11.25, 11.25], "nice": false, "zero": false}}, "y2": {"datum": 11.11}}},
            {"transform": [{"filter": "datum.k=='ring'"}], "mark": {"type": "point", "shape": "circle", "filled": false, "color": "#000", "strokeWidth": 1, "opacity": 1, "clip": true}, "encoding": {"x": {"datum": 0}, "y": {"datum": 0}, "size": {"field": "r", "type": "quantitative", "scale": {"type": "pow", "exponent": 2, "domain": [0, 10], "range": [0, 82944]}}}},
            {"transform": [{"filter": "datum.k=='lab'"}], "mark": {"type": "text", "color": "#fff", "fontSize": 20, "clip": true}, "encoding": {"theta": {"datum": 0, "scale": {"domain": [0, 360], "range": [0, 6.283185]}}, "radius": {"field": "lr", "type": "quantitative", "scale": {"type": "linear", "domain": [0, 10], "range": [0, 144], "zero": true}}, "text": {"field": "t"}}},
            {"transform": [{"filter": "datum.k=='lab'&&datum.lr<8"}], "mark": {"type": "text", "color": "#fff", "fontSize": 20, "clip": true}, "encoding": {"theta": {"datum": 90}, "radius": {"field": "lr", "type": "quantitative"}, "text": {"field": "t"}}},
            {"transform": [{"filter": "datum.k=='lab'"}], "mark": {"type": "text", "color": "#fff", "fontSize": 20, "clip": true}, "encoding": {"theta": {"datum": 180}, "radius": {"field": "lr", "type": "quantitative"}, "text": {"field": "t"}}},
            {"transform": [{"filter": "datum.k=='lab'&&datum.lr<8"}], "mark": {"type": "text", "color": "#fff", "fontSize": 20, "clip": true}, "encoding": {"theta": {"datum": 270}, "radius": {"field": "lr", "type": "quantitative"}, "text": {"field": "t"}}},
            {"transform": [{"filter": "datum.k=='shot'"}], "mark": {"type": "point", "shape": "circle", "filled": true, "color": "#808080", "opacity": 1, "size": 4199, "strokeWidth": 0, "clip": true}, "encoding": {"x": {"field": "x", "type": "quantitative"}, "y": {"field": "y", "type": "quantitative"}}},
            {"transform": [{"filter": "datum.k=='shot'"}], "mark": {"type": "point", "shape": "circle", "filled": false, "color": "#000", "opacity": 1, "size": 4199, "strokeWidth": 1, "clip": true}, "encoding": {"x": {"field": "x", "type": "quantitative"}, "y": {"field": "y", "type": "quantitative"}}},
            {"transform": [{"filter": "datum.k=='bg'"}], "mark": {"type": "rule", "color": "#fff", "strokeWidth": 2}, "encoding": {"x": {"datum": -2.36}, "x2": {"datum": 2.36}, "y": {"datum": 0}}},
            {"transform": [{"filter": "datum.k=='bg'"}], "mark": {"type": "rule", "color": "#fff", "strokeWidth": 2}, "encoding": {"x": {"datum": 0}, "y": {"datum": -2.36}, "y2": {"datum": 2.36}}},
            {"transform": [{"filter": "datum.k=='ten'"}], "mark": {"type": "point", "shape": "circle", "filled": true, "fill": "#fff", "stroke": "#000", "strokeWidth": 1, "opacity": 1}, "encoding": {"x": {"datum": 0}, "y": {"datum": 0}, "size": {"field": "r", "type": "quantitative"}}},
            {"transform": [{"filter": "datum.k=='title'"}], "mark": {"type": "text", "align": "left", "baseline": "top", "fontSize": 16, "dy": 1}, "encoding": {"x": {"datum": -7.986}, "y": {"datum": 11.25}, "text": {"field": "t"}}}
          ]
        },
        {
          "width": 138, "height": 324,
          "transform": [{"filter": "datum.s==5"}],
          "layer": [
            {"transform": [{"filter": "datum.k=='shot'"}], "mark": {"type": "text", "align": "right", "fontSize": 15.5}, "encoding": {"x": {"datum": 42.2, "scale": {"domain": [0, 138], "nice": false, "zero": false}}, "y": {"field": "n", "type": "ordinal", "scale": {"type": "band", "domain": [1, 2, 3, 4, 5, 6, 7, 8, 9, 10, "Serie", "Total"], "paddingInner": 0, "paddingOuter": 0}}, "text": {"field": "n"}}},
            {"transform": [{"filter": "datum.k=='shot'"}], "mark": {"type": "text", "align": "left", "fontSize": 15.5}, "encoding": {"x": {"datum": 42.2}, "y": {"field": "n", "type": "ordinal"}, "text": {"value": ":"}}},
            {"transform": [{"filter": "datum.k=='shot'"}], "mark": {"type": "text", "align": "left", "fontSize": 15.5}, "encoding": {"x": {"datum": 67.5}, "y": {"field": "n", "type": "ordinal"}, "text": {"field": "sc", "format": "\u00a0>4.1f"}}},
            {"transform": [{"filter": "datum.k=='shot'&&datum.in"}], "mark": {"type": "text", "align": "left", "fontSize": 15.5}, "encoding": {"x": {"datum": 98}, "y": {"field": "n", "type": "ordinal"}, "text": {"value": "x"}}},
            {"transform": [{"filter": "datum.k=='shot'&&datum.dir!=null"}], "mark": {"type": "text", "font": "DejaVu Sans", "fontSize": 15}, "encoding": {"x": {"datum": 123.5}, "y": {"field": "n", "type": "ordinal"}, "text": {"value": "⟶"}, "angle": {"field": "dir", "type": "quantitative", "scale": {"domain": [0, 360], "range": [360, 0]}}}},
            {"transform": [{"filter": "datum.k=='sum'"}], "mark": {"type": "rule", "color": "#000", "strokeWidth": 1}, "encoding": {"x": {"datum": 0}, "x2": {"datum": 138}, "y": {"field": "lab", "type": "ordinal", "bandPosition": 0}}},
            {"transform": [{"filter": "datum.k=='sum'"}], "mark": {"type": "text", "align": "left", "fontSize": 16}, "encoding": {"x": {"datum": 1}, "y": {"field": "lab", "type": "ordinal"}, "text": {"field": "lab"}}},
            {"transform": [{"filter": "datum.k=='sum'"}], "mark": {"type": "text", "align": "right", "fontSize": 15.5}, "encoding": {"x": {"datum": 136}, "y": {"field": "lab", "type": "ordinal"}, "text": {"field": "v", "format": ".1f"}}}
          ]
        },
        {
          "width": 230, "height": 324,
          "transform": [{"filter": "datum.s==null||datum.s==6"}],
          "layer": [
            {"transform": [{"filter": "datum.k=='bg'"}], "mark": {"type": "rect", "color": "#c0c0c0"}, "encoding": {"x": {"datum": -7.85, "scale": {"domain": [-7.986, 7.986], "nice": false, "zero": false}}, "x2": {"datum": 7.85}, "y": {"datum": -11.11, "scale": {"domain": [-11.25, 11.25], "nice": false, "zero": false}}, "y2": {"datum": 11.11}}},
            {"transform": [{"filter": "datum.k=='ring'"}], "mark": {"type": "point", "shape": "circle", "filled": false, "color": "#000", "strokeWidth": 1, "opacity": 1, "clip": true}, "encoding": {"x": {"datum": 0}, "y": {"datum": 0}, "size": {"field": "r", "type": "quantitative", "scale": {"type": "pow", "exponent": 2, "domain": [0, 10], "range": [0, 82944]}}}},
            {"transform": [{"filter": "datum.k=='lab'"}], "mark": {"type": "text", "color": "#fff", "fontSize": 20, "clip": true}, "encoding": {"theta": {"datum": 0, "scale": {"domain": [0, 360], "range": [0, 6.283185]}}, "radius": {"field": "lr", "type": "quantitative", "scale": {"type": "linear", "domain": [0, 10], "range": [0, 144], "zero": true}}, "text": {"field": "t"}}},
            {"transform": [{"filter": "datum.k=='lab'&&datum.lr<8"}], "mark": {"type": "text", "color": "#fff", "fontSize": 20, "clip": true}, "encoding": {"theta": {"datum": 90}, "radius": {"field": "lr", "type": "quantitative"}, "text": {"field": "t"}}},
            {"transform": [{"filter": "datum.k=='lab'"}], "mark": {"type": "text", "color": "#fff", "fontSize": 20, "clip": true}, "encoding": {"theta": {"datum": 180}, "radius": {"field": "lr", "type": "quantitative"}, "text": {"field": "t"}}},
            {"transform": [{"filter": "datum.k=='lab'&&datum.lr<8"}], "mark": {"type": "text", "color": "#fff", "fontSize": 20, "clip": true}, "encoding": {"theta": {"datum": 270}, "radius": {"field": "lr", "type": "quantitative"}, "text": {"field": "t"}}},
            {"transform": [{"filter": "datum.k=='shot'"}], "mark": {"type": "point", "shape": "circle", "filled": true, "color": "#808080", "opacity": 1, "size": 4199, "strokeWidth": 0, "clip": true}, "encoding": {"x": {"field": "x", "type": "quantitative"}, "y": {"field": "y", "type": "quantitative"}}},
            {"transform": [{"filter": "datum.k=='shot'"}], "mark": {"type": "point", "shape": "circle", "filled": false, "color": "#000", "opacity": 1, "size": 4199, "strokeWidth": 1, "clip": true}, "encoding": {"x": {"field": "x", "type": "quantitative"}, "y": {"field": "y", "type": "quantitative"}}},
            {"transform": [{"filter": "datum.k=='bg'"}], "mark": {"type": "rule", "color": "#fff", "strokeWidth": 2}, "encoding": {"x": {"datum": -2.36}, "x2": {"datum": 2.36}, "y": {"datum": 0}}},
            {"transform": [{"filter": "datum.k=='bg'"}], "mark": {"type": "rule", "color": "#fff", "strokeWidth": 2}, "encoding": {"x": {"datum": 0}, "y": {"datum": -2.36}, "y2": {"datum": 2.36}}},
            {"transform": [{"filter": "datum.k=='ten'"}], "mark": {"type": "point", "shape": "circle", "filled": true, "fill": "#fff", "stroke": "#000", "strokeWidth": 1, "opacity": 1}, "encoding": {"x": {"datum": 0}, "y": {"datum": 0}, "size": {"field": "r", "type": "quantitative"}}},
            {"transform": [{"filter": "datum.k=='title'"}], "mark": {"type": "text", "align": "left", "baseline": "top", "fontSize": 16, "dy": 1}, "encoding": {"x": {"datum": -7.986}, "y": {"datum": 11.25}, "text": {"field": "t"}}}
          ]
        },
        {
          "width": 139, "height": 324,
          "transform": [{"filter": "datum.s==6"}],
          "layer": [
            {"transform": [{"filter": "datum.k=='shot'"}], "mark": {"type": "text", "align": "right", "fontSize": 15.5}, "encoding": {"x": {"datum": 42.2, "scale": {"domain": [0, 139], "nice": false, "zero": false}}, "y": {"field": "n", "type": "ordinal", "scale": {"type": "band", "domain": [1, 2, 3, 4, 5, 6, 7, 8, 9, 10, "Serie", "Total"], "paddingInner": 0, "paddingOuter": 0}}, "text": {"field": "n"}}},
            {"transform": [{"filter": "datum.k=='shot'"}], "mark": {"type": "text", "align": "left", "fontSize": 15.5}, "encoding": {"x": {"datum": 42.2}, "y": {"field": "n", "type": "ordinal"}, "text": {"value": ":"}}},
            {"transform": [{"filter": "datum.k=='shot'"}], "mark": {"type": "text", "align": "left", "fontSize": 15.5}, "encoding": {"x": {"datum": 67.5}, "y": {"field": "n", "type": "ordinal"}, "text": {"field": "sc", "format": "\u00a0>4.1f"}}},
            {"transform": [{"filter": "datum.k=='shot'&&datum.in"}], "mark": {"type": "text", "align": "left", "fontSize": 15.5}, "encoding": {"x": {"datum": 98}, "y": {"field": "n", "type": "ordinal"}, "text": {"value": "x"}}},
            {"transform": [{"filter": "datum.k=='shot'&&datum.dir!=null"}], "mark": {"type": "text", "font": "DejaVu Sans", "fontSize": 15}, "encoding": {"x": {"datum": 123.5}, "y": {"field": "n", "type": "ordinal"}, "text": {"value": "⟶"}, "angle": {"field": "dir", "type": "quantitative", "scale": {"domain": [0, 360], "range": [360, 0]}}}},
            {"transform": [{"filter": "datum.k=='sum'"}], "mark": {"type": "rule", "color": "#000", "strokeWidth": 1}, "encoding": {"x": {"datum": 0}, "x2": {"datum": 139}, "y": {"field": "lab", "type": "ordinal", "bandPosition": 0}}},
            {"transform": [{"filter": "datum.k=='sum'"}], "mark": {"type": "text", "align": "left", "fontSize": 16}, "encoding": {"x": {"datum": 1}, "y": {"field": "lab", "type": "ordinal"}, "text": {"field": "lab"}}},
            {"transform": [{"filter": "datum.k=='sum'"}], "mark": {"type": "text", "align": "right", "fontSize": 15.5}, "encoding": {"x": {"datum": 136.5}, "y": {"field": "lab", "type": "ordinal"}, "text": {"field": "v", "format": ".1f"}}}
          ]
        }
      ]
    },
    {
      "width": 737, "height": 22,
      "view": {"stroke": null},
      "layer": [
        {"transform": [{"filter": "datum.c=='fl'"}], "mark": {"type": "text", "align": "left", "baseline": "alphabetic", "fontSize": 10.5, "dx": -1, "dy": 3},
         "encoding": {"x": {"field": "c", "type": "nominal", "bandPosition": 0, "scale": {"type": "band", "domain": ["fl", "fc", "fr"], "paddingInner": 0, "paddingOuter": 0}}, "text": {"field": "t"}}},
        {"transform": [{"filter": "datum.c=='fc'"}], "mark": {"type": "text", "align": "center", "baseline": "alphabetic", "fontSize": 10.5, "dx": -2, "dy": 3}, "encoding": {"x": {"field": "c", "type": "nominal", "bandPosition": 0.5}, "text": {"field": "t"}}},
        {"transform": [{"filter": "datum.c=='fr'"}], "mark": {"type": "text", "align": "right", "baseline": "alphabetic", "fontSize": 10.5, "dx": 0, "dy": 3}, "encoding": {"x": {"field": "c", "type": "nominal", "bandPosition": 1}, "text": {"field": "t"}}}
      ]
    }
  ],
  "config": {
    "view": {"stroke": "#000", "strokeWidth": 1},
    "concat": {"spacing": 0},
    "axis": {"disable": true},
    "legend": {"disable": true},
    "text": {"font": "Liberation Sans", "color": "#000"}
  }
}
